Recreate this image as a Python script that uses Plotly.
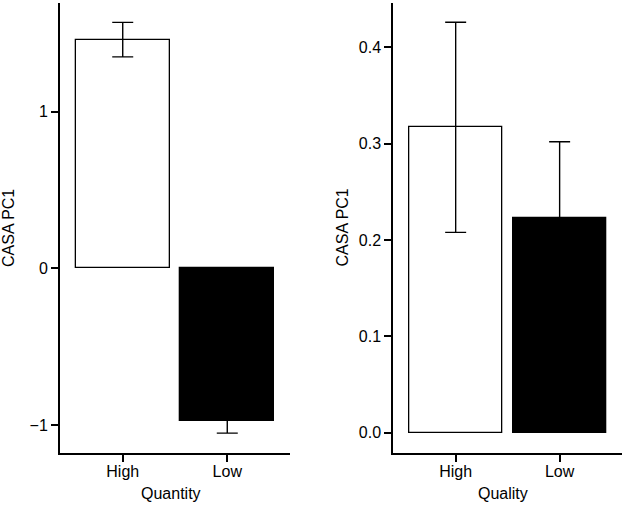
import plotly.graph_objects as go

# ---- data ----
categories = ["High", "Low"]
quantity_means = [1.46, -0.975]
quantity_err = [0.11, 0.077]
quality_means = [0.317, 0.223]
quality_err = [0.109, 0.079]
bar_colors = ["white", "black"]
left_yticks = [-1, 0, 1]
right_yticks = [0.0, 0.1, 0.2, 0.3, 0.4]

W, H = 622, 505
FONT = "Liberation Sans, Arial, Helvetica, sans-serif"

def px_x(x):
    return x / W

def px_y(y):
    return (H - y) / H

fig = go.Figure()

fig.add_trace(go.Bar(
    x=categories, y=quantity_means, width=0.9,
    marker=dict(color=bar_colors, line=dict(color="black", width=1.3)),
    error_y=dict(type="data", array=quantity_err, visible=True,
                 color="black", thickness=1.4, width=10.5),
    xaxis="x", yaxis="y", showlegend=False,
))
fig.add_trace(go.Bar(
    x=categories, y=quality_means, width=0.9,
    marker=dict(color=bar_colors, line=dict(color="black", width=1.3)),
    error_y=dict(type="data", array=quality_err, visible=True,
                 color="black", thickness=1.4, width=10.5),
    xaxis="x2", yaxis="y2", showlegend=False,
))

ydom = [px_y(453), px_y(3)]
axis_common = dict(
    showline=True, linecolor="black", linewidth=2,
    ticks="outside", ticklen=7, tickwidth=1.5, tickcolor="black",
    showgrid=False, zeroline=False,
    tickfont=dict(family=FONT, size=16, color="black"),
)

fig.update_layout(
    width=W, height=H,
    margin=dict(l=0, r=0, t=0, b=0),
    paper_bgcolor="white", plot_bgcolor="white",
    font=dict(family=FONT, size=16, color="black"),
    xaxis=dict(domain=[px_x(60), px_x(290)], range=[-0.6, 1.6],
               anchor="y", ticklabelstandoff=-4, **axis_common),
    yaxis=dict(domain=ydom, range=[-1.179, 1.694], anchor="x",
               tickvals=left_yticks, **axis_common),
    xaxis2=dict(domain=[px_x(393.3), 1.0], range=[-0.6, 1.6],
                anchor="y2", ticklabelstandoff=-4, **axis_common),
    yaxis2=dict(domain=ydom, range=[-0.021, 0.446], anchor="x2",
                tickvals=right_yticks, tickformat=".1f", **axis_common),
    bargap=0,
)

annots = [
    dict(text="CASA PC1", x=px_x(9), y=px_y(228), textangle=-90),
    dict(text="CASA PC1", x=px_x(342.5), y=px_y(228), textangle=-90),
    dict(text="Quantity", x=px_x(171), y=px_y(493)),
    dict(text="Quality", x=px_x(503), y=px_y(493)),
]
for a in annots:
    fig.add_annotation(xref="paper", yref="paper", showarrow=False,
                       xanchor="center", yanchor="middle",
                       font=dict(family=FONT, size=16, color="black"), **a)

fig.write_html(
    "out.html",
    config={"displayModeBar": False},
    post_script="document.body.style.margin='0';document.body.style.padding='0';",
)
